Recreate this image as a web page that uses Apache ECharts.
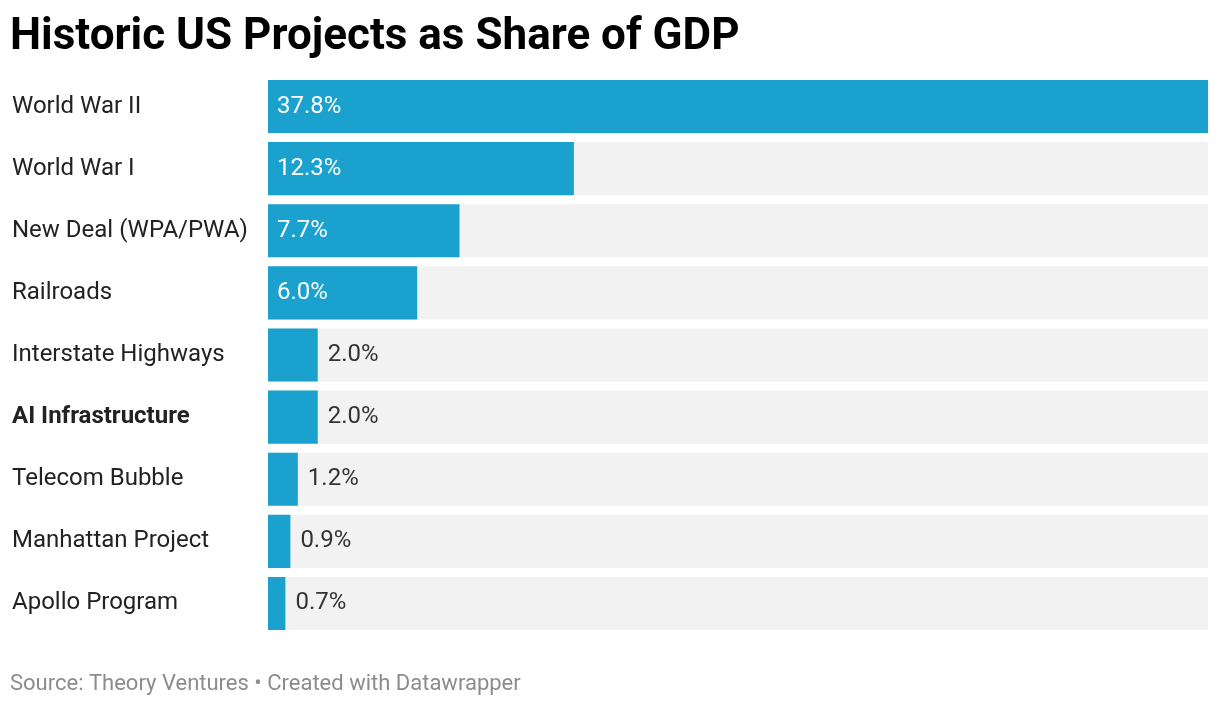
<!DOCTYPE html>
<html>
<head>
    <meta charset="utf-8">
    <title>Historic US Projects as Share of GDP</title>
    <script src="https://cdn.jsdelivr.net/npm/echarts@6/dist/echarts.min.js"></script>
    <style>
        html, body { margin: 0; padding: 0; background: #fff; }
    </style>
</head>
<body>
    <div id="main" style="width: 1220px;height:706px;"></div>
    <script type="text/javascript">
        // data
        var projects = ['World War II', 'World War I', 'New Deal (WPA/PWA)', 'Railroads',
            'Interstate Highways', 'AI Infrastructure', 'Telecom Bubble', 'Manhattan Project', 'Apollo Program'];
        var shareOfGdp = [37.8, 12.3, 7.7, 6.0, 2.0, 2.0, 1.2, 0.9, 0.7];
        var highlighted = 'AI Infrastructure';
        var insideThreshold = 5; // bars wider than this get the label inside

        var myChart = echarts.init(document.getElementById('main'));
        var font = 'Roboto, "Noto Sans", sans-serif';

        var barData = shareOfGdp.map(function (v) {
            var inside = v > insideThreshold;
            return {
                value: v,
                label: inside
                    ? { position: 'insideLeft', distance: 9, color: '#ffffff' }
                    : { position: 'right', distance: 10, color: '#333333' }
            };
        });

        var option = {
            backgroundColor: '#ffffff',
            animation: false,
            title: {
                text: 'Historic US Projects as Share of GDP',
                left: 10,
                top: 16,
                padding: 0,
                textStyle: { fontFamily: font, fontWeight: 'bold', fontSize: 44, color: '#000000' }
            },
            graphic: [{
                type: 'text',
                left: 10,
                top: 673,
                style: {
                    text: 'Source: Theory Ventures \u2022 Created with Datawrapper',
                    font: '22px ' + font,
                    fill: '#8c8c8c'
                }
            }],
            grid: { left: 268, right: 12, top: 75.5, bottom: 71.5 },
            xAxis: {
                type: 'value',
                min: 0,
                max: 37.8,
                show: false
            },
            yAxis: {
                type: 'category',
                data: projects,
                inverse: true,
                axisLine: { show: false },
                axisTick: { show: false },
                axisLabel: {
                    align: 'left',
                    margin: 256,
                    fontFamily: font,
                    fontSize: 24,
                    color: '#222222',
                    formatter: function (v) {
                        return v === highlighted ? '{b|' + v + '}' : v;
                    },
                    rich: { b: { fontFamily: font, fontSize: 24, fontWeight: 'bold', color: '#222222' } }
                }
            },
            series: [{
                type: 'bar',
                data: barData,
                barCategoryGap: '14.5%',
                itemStyle: { color: '#1aa1ce' },
                showBackground: true,
                backgroundStyle: { color: '#f2f2f2' },
                label: {
                    show: true,
                    fontFamily: font,
                    fontSize: 24,
                    formatter: function (p) { return p.value.toFixed(1) + '%'; }
                }
            }]
        };

        myChart.setOption(option);
    </script>
</body>
</html>
